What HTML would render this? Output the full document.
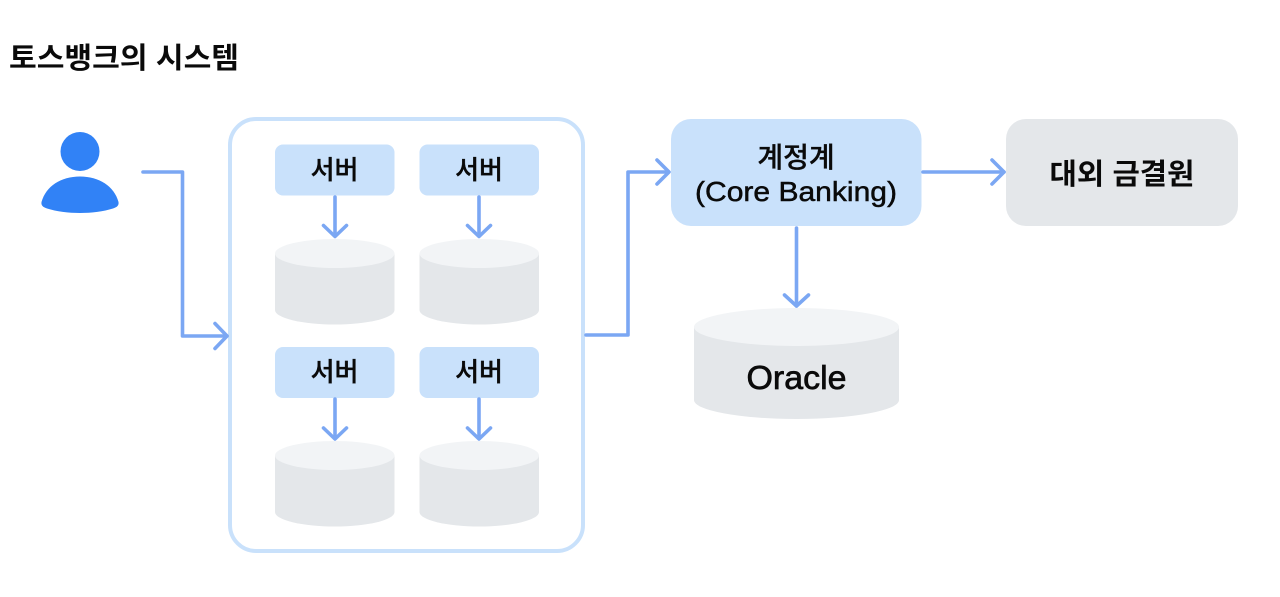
<!DOCTYPE html>
<html lang="ko">
<head>
<meta charset="utf-8">
<title>토스뱅크의 시스템</title>
<style>
html,body{margin:0;padding:0;background:#fff;width:1280px;height:597px;overflow:hidden}
svg{display:block}
text{font-family:"Liberation Sans","Noto Sans CJK KR",sans-serif;fill:#0a0a0a;text-anchor:middle}
.a{fill:none;stroke:#7ba7f3;stroke-width:3.6;stroke-linecap:round;stroke-linejoin:round}
.b{fill:#c9e1fb}
.g{fill:#e4e7ea}
.t{fill:#f2f4f6}
.s{font-size:26px;font-weight:500;stroke:#0a0a0a;stroke-width:.35}
</style>
</head>
<body>
<svg width="1280" height="597" viewBox="0 0 1280 597" xmlns="http://www.w3.org/2000/svg">
<text x="124" y="68" style="font-size:29px;font-weight:700" textLength="230" lengthAdjust="spacingAndGlyphs">토스뱅크의 시스템</text>

<circle cx="80" cy="151.5" r="19.5" fill="#3182f6"/>
<path d="M41.500 202 C46 186 61 176.500 80 176.500 C99 176.500 114 186 118.500 202 C119 205 117.500 207 113 208.500 C94 214.500 66 214.500 47 208.500 C42.500 207 41 205 41.500 202 Z" fill="#3182f6"/>

<rect x="230" y="119" width="353" height="432" rx="26" ry="26" fill="#fff" stroke="#c9e1fb" stroke-width="4"/>

<g>
<rect class="b" x="275" y="144.500" width="119.500" height="51" rx="8"/>
<rect class="b" x="419.500" y="144.500" width="119.500" height="51" rx="8"/>
<rect class="b" x="275" y="347" width="119.500" height="51" rx="8"/>
<rect class="b" x="419.500" y="347" width="119.500" height="51" rx="8"/>
<text class="s" x="334.500" y="179">서버</text>
<text class="s" x="479" y="179">서버</text>
<text class="s" x="334.500" y="381">서버</text>
<text class="s" x="479" y="381">서버</text>
</g>

<g>
<path class="g" d="M275 253 V310 A59.750 14.500 0 0 0 394.500 310 V253 Z"/>
<ellipse class="t" cx="334.750" cy="253.500" rx="59.750" ry="14.500"/>
<path class="g" d="M419.500 253 V310 A59.750 14.500 0 0 0 539 310 V253 Z"/>
<ellipse class="t" cx="479.250" cy="253.500" rx="59.750" ry="14.500"/>
<path class="g" d="M275 455 V512 A59.750 14.500 0 0 0 394.500 512 V455 Z"/>
<ellipse class="t" cx="334.750" cy="455.500" rx="59.750" ry="14.500"/>
<path class="g" d="M419.500 455 V512 A59.750 14.500 0 0 0 539 512 V455 Z"/>
<ellipse class="t" cx="479.250" cy="455.500" rx="59.750" ry="14.500"/>
</g>

<rect class="b" x="671" y="119" width="250.500" height="107" rx="20"/>
<text x="796" y="167" style="font-size:28px;font-weight:500;stroke:#0a0a0a;stroke-width:.35">계정계</text>
<text x="796" y="201" style="font-size:28px;font-weight:400;stroke:#0a0a0a;stroke-width:.5" textLength="202" lengthAdjust="spacingAndGlyphs">(Core Banking)</text>

<rect class="g" x="1006" y="119" width="232" height="107" rx="20"/>
<text x="1122" y="184" style="font-size:29px;font-weight:700" textLength="145" lengthAdjust="spacingAndGlyphs">대외 금결원</text>

<path class="g" d="M694 327 V400 A102.500 19 0 0 0 899 400 V327 Z"/>
<ellipse class="t" cx="796.500" cy="327" rx="102.500" ry="19"/>
<text x="796.500" y="389" style="font-size:33px;font-weight:400;stroke:#0a0a0a;stroke-width:.7" textLength="100" lengthAdjust="spacingAndGlyphs">Oracle</text>

<g class="a">
<path d="M143 172 H182.500 V336 H227"/>
<path d="M215 323.500 L227 336 L215 348.500"/>
<path d="M586 335 H628 V172 H668"/>
<path d="M657 160 L669 172 L657 184"/>
<path d="M923 172 H1004"/>
<path d="M992 160 L1004 172 L992 184"/>
<path d="M796.500 228 V306"/>
<path d="M784.500 295 L796.500 306 L808.500 295"/>
<path d="M335 197 V236"/>
<path d="M323.500 225.500 L335 236.500 L346.500 225.500"/>
<path d="M479 197 V236"/>
<path d="M467.500 225.500 L479 236.500 L490.500 225.500"/>
<path d="M335 399 V438.500"/>
<path d="M323.500 428 L335 439 L346.500 428"/>
<path d="M479 399 V438.500"/>
<path d="M467.500 428 L479 439 L490.500 428"/>
</g>
</svg>
</body>
</html>
